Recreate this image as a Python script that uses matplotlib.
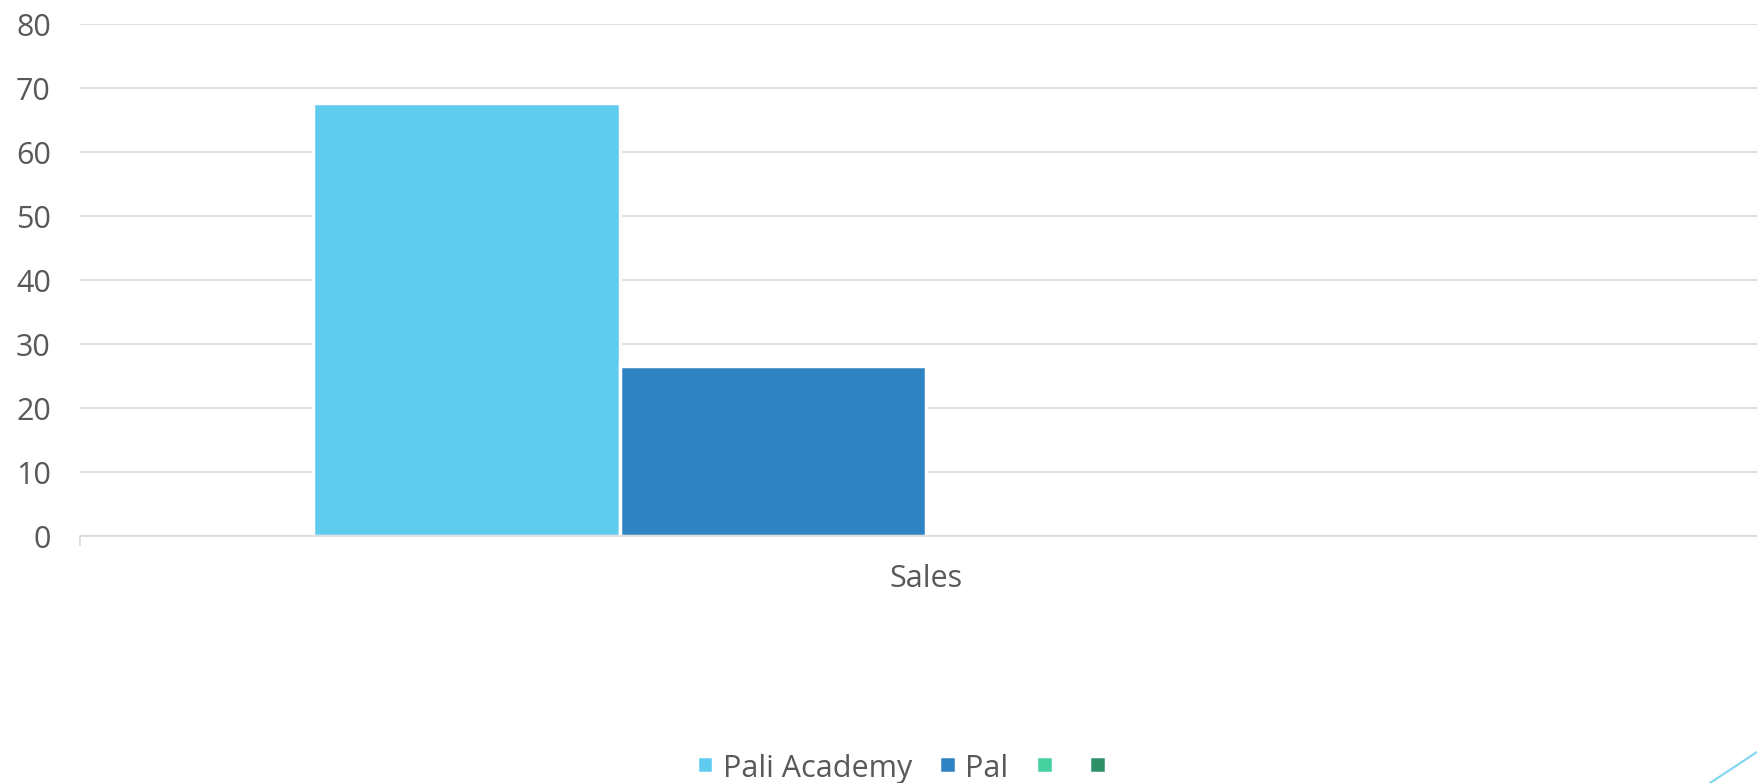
import numpy as np
import matplotlib
matplotlib.use("Agg")
import matplotlib.pyplot as plt
from matplotlib.lines import Line2D

categories = ["Sales"]
series_names = ["Pali Academy", "Pal", "", ""]
series_values = [[67.6], [26.6], [np.nan], [np.nan]]
series_colors = ["#5FCBEF", "#2E83C2", "#45D09F", "#2E9068"]
y_ticks = [0, 10, 20, 30, 40, 50, 60, 70, 80]

text_color = "#595959"
grid_color = "#D9D9D9"

plt.rcParams["font.family"] = ["Open Sans", "DejaVu Sans"]

W, H = 1757, 783
fig = plt.figure(figsize=(W / 100, H / 100), dpi=100)
ax = fig.add_axes([80 / W, (H - 536) / H, (W - 80) / W, (536 - 24) / H])

n = len(series_names)
width = 1.0
x = np.arange(len(categories))
handles = []
for i, (name, vals, col) in enumerate(zip(series_names, series_values, series_colors)):
    offs = (i - (n - 1) / 2) * width
    b = ax.bar(x + offs, vals, width=width, color=col, edgecolor="white",
               linewidth=2.5, label=name)
    handles.append(b)

ax.set_xlim(-2.76, 2.71)
ax.set_ylim(0, 80)
ax.set_yticks(y_ticks)
ax.set_yticklabels([str(v) for v in y_ticks])
ax.yaxis.grid(True, color=grid_color, linewidth=1.2)
ax.set_axisbelow(True)

for s in ["top", "right", "left"]:
    ax.spines[s].set_visible(False)
ax.spines["bottom"].set_color(grid_color)
ax.spines["bottom"].set_linewidth(1.2)

ax.set_xticks(x)
ax.set_xticklabels(categories)
ax.set_xticks([-2.76], minor=True)
ax.tick_params(axis="x", which="major", length=0, pad=20, labelsize=22,
               labelcolor=text_color)
ax.tick_params(axis="x", which="minor", length=7, color=grid_color, width=1.2)
ax.tick_params(axis="y", length=0, pad=21, labelsize=22, labelcolor=text_color)

leg = fig.legend(handles=handles, labels=series_names, loc="center",
                 bbox_to_anchor=(906 / W, 1 - 769 / H), ncol=4, frameon=False,
                 fontsize=22, handlelength=0.55, handleheight=0.55,
                 handletextpad=0.3, columnspacing=0.9, labelcolor=text_color)
for p in leg.get_patches():
    # square legend keys like the original
    p.set_height(p.get_width())
    p.set_y(p.get_y() + 2)

# decorative theme line in the corner
fig.add_artist(Line2D([1710 / W, 1.0], [0, (H - 752) / H], color="#7FD6F2",
                      linewidth=1.5, transform=fig.transFigure))

fig.savefig("out.png", dpi=100)
